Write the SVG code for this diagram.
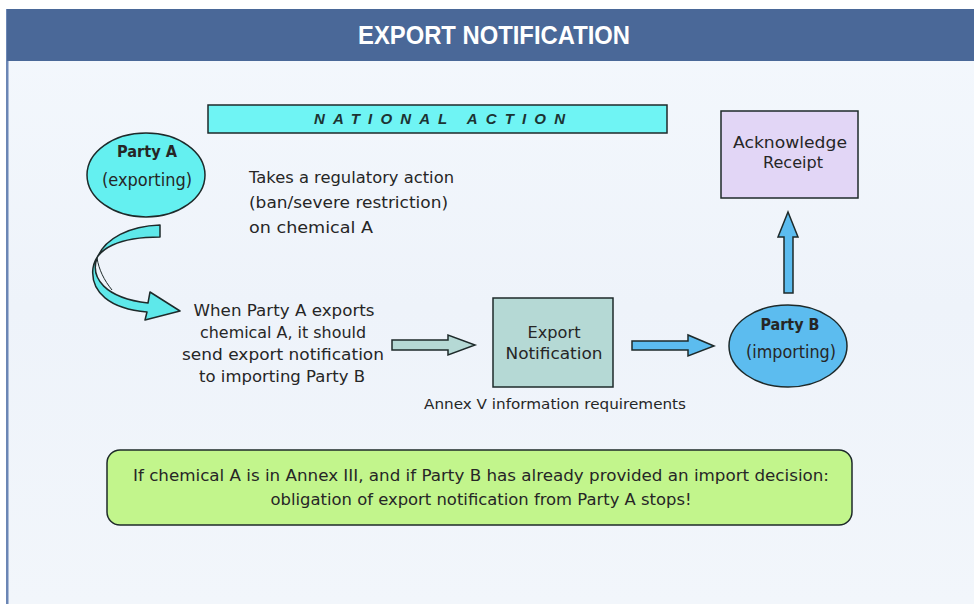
<svg xmlns="http://www.w3.org/2000/svg" width="974" height="604" viewBox="0 0 974 604">
<defs>
<linearGradient id="bg" x1="0" y1="0" x2="0" y2="1">
<stop offset="0" stop-color="#f4f8fd"/>
<stop offset="0.5" stop-color="#eef3fa"/>
<stop offset="1" stop-color="#f2f6fb"/>
</linearGradient>
<style>
.t{font-family:"DejaVu Sans","Liberation Sans",Arial,sans-serif;fill:#262626;font-size:15.5px}
.c{text-anchor:middle}
.b{font-weight:bold}
.sh{stroke:#1e2a2a;stroke-width:1.5}
</style>
</defs>
<rect width="974" height="604" fill="#ffffff"/>
<rect x="7" y="9" width="967" height="595" fill="url(#bg)"/>
<rect x="6" y="9" width="2.5" height="595" fill="#6b86b5"/>
<g id="header">
<rect x="7" y="9" width="967" height="52" fill="#4a6898"/>
<text x="494" y="44" class="c b" style="font-family:'Liberation Sans',Arial,sans-serif;font-size:25px;fill:#ffffff" textLength="272" lengthAdjust="spacingAndGlyphs">EXPORT NOTIFICATION</text>
</g>
<g id="national-action">
<rect x="208" y="105" width="459" height="28" fill="#6ff4f4" class="sh"/>
<text x="314" y="124" class="t b" style="font-family:'Liberation Sans',Arial,sans-serif;font-style:italic;fill:#1c3333;font-size:15px" textLength="251" lengthAdjust="spacing">NATIONAL ACTION</text>
</g>
<g id="party-a">
<ellipse cx="146" cy="175" rx="59" ry="42" fill="#64f0f0" class="sh"/>
<text x="147" y="157" class="t c b" textLength="60" lengthAdjust="spacingAndGlyphs">Party A</text>
<text x="147" y="186" class="t c" style="font-size:17px" textLength="90" lengthAdjust="spacingAndGlyphs">(exporting)</text>
</g>
<g id="regulatory-action">
<text x="249" y="183" class="t" textLength="205" lengthAdjust="spacingAndGlyphs">Takes a regulatory action</text>
<text x="249" y="208" class="t" textLength="199" lengthAdjust="spacingAndGlyphs">(ban/severe restriction)</text>
<text x="249" y="233" class="t" textLength="124" lengthAdjust="spacingAndGlyphs">on chemical A</text>
</g>
<g id="when-exports">
<text x="284" y="316" class="t c" textLength="181" lengthAdjust="spacingAndGlyphs">When Party A exports</text>
<text x="283" y="338" class="t c" textLength="166" lengthAdjust="spacingAndGlyphs">chemical A, it should</text>
<text x="283" y="360" class="t c" textLength="202" lengthAdjust="spacingAndGlyphs">send export notification</text>
<text x="282" y="382" class="t c" textLength="166" lengthAdjust="spacingAndGlyphs">to importing Party B</text>
</g>
<g id="export-notification">
<rect x="493" y="298" width="120" height="89" fill="#b5d9d5" class="sh"/>
<text x="554" y="338" class="t c" textLength="53" lengthAdjust="spacingAndGlyphs">Export</text>
<text x="554" y="359" class="t c" textLength="97" lengthAdjust="spacingAndGlyphs">Notification</text>
<text x="555" y="409" class="t c" style="font-size:14.5px" textLength="262" lengthAdjust="spacingAndGlyphs">Annex V information requirements</text>
</g>
<g id="party-b">
<ellipse cx="788" cy="346" rx="59" ry="41" fill="#5cbcef" class="sh"/>
<text x="790" y="330" class="t c b" textLength="59" lengthAdjust="spacingAndGlyphs">Party B</text>
<text x="791" y="358" class="t c" style="font-size:17px" textLength="90" lengthAdjust="spacingAndGlyphs">(importing)</text>
</g>
<g id="acknowledge-receipt">
<rect x="721" y="111" width="137" height="87" fill="#e2d6f6" class="sh"/>
<text x="790" y="148" class="t c" textLength="114" lengthAdjust="spacingAndGlyphs">Acknowledge</text>
<text x="793" y="168" class="t c" textLength="60" lengthAdjust="spacingAndGlyphs">Receipt</text>
</g>
<g id="note">
<rect x="107" y="450" width="745" height="75" rx="13" fill="#c2f58c" class="sh"/>
<text x="481" y="481" class="t c" style="font-size:16px" textLength="696" lengthAdjust="spacingAndGlyphs">If chemical A is in Annex III, and if Party B has already provided an import decision:</text>
<text x="481" y="505" class="t c" style="font-size:16px" textLength="421" lengthAdjust="spacingAndGlyphs">obligation of export notification from Party A stops!</text>
</g>
<g id="connectors">
<path d="M160,225 C130,226 105,238 97,258 C90,278 105,298 148,303 L150,292 L180,311 L145,320 L147,312 C110,309 90,292 93,268 C96,248 120,237 160,237 Z" fill="#5ee8ea" class="sh" stroke-linejoin="round"/>
<path d="M97,258 C99,270 104,280 112,290" fill="none" stroke="#1e2a2a" stroke-width="1"/>
<path d="M392,340 L448,340 L448,335 L475,345 L448,355 L448,350 L392,350 Z" fill="#b5d9d5" class="sh"/>
<path d="M632,341 L688,341 L688,335 L714,346 L688,356 L688,350 L632,350 Z" fill="#5cbcef" class="sh"/>
<path d="M784,293 L784,237 L778,237 L788,212 L798,237 L793,237 L793,293 Z" fill="#5cbcef" class="sh"/>
</g>
</svg>
